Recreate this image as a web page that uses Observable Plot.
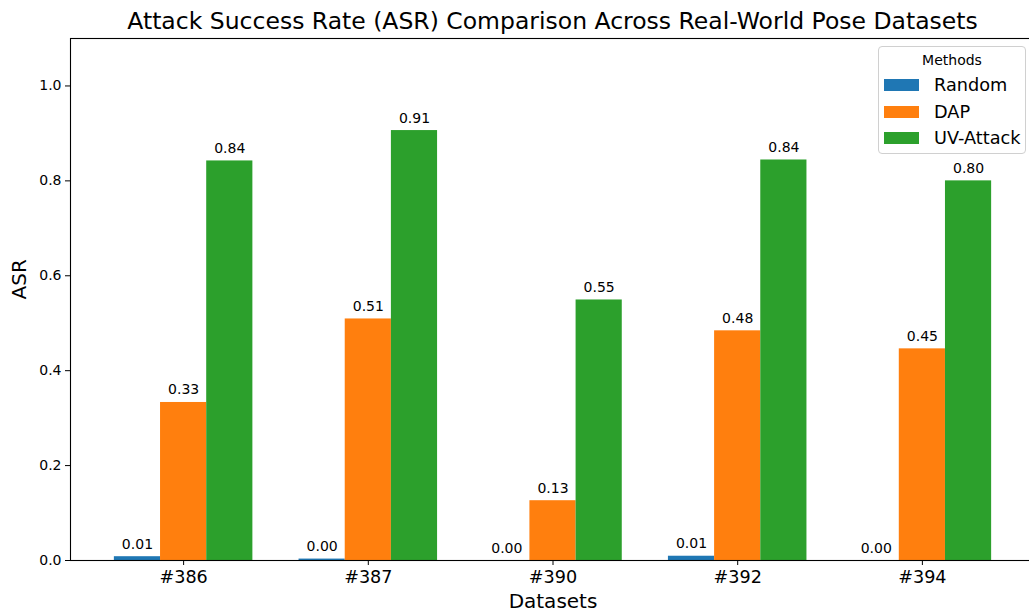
<!DOCTYPE html>
<html>
<head>
<meta charset="utf-8">
<script src="https://cdn.jsdelivr.net/npm/d3@7"></script>
<script src="https://cdn.jsdelivr.net/npm/@observablehq/plot@0.6"></script>
<style>
  html, body { margin: 0; padding: 0; background: #fff; }
  #wrap { position: relative; width: 1029px; height: 613px; overflow: hidden; font-family: "DejaVu Sans", sans-serif; }
  #title { position: absolute; left: 0; width: 1105px; top: 7px; text-align: center; font-size: 23.5px; color: #000; white-space: nowrap; }
  #legend { position: absolute; left: 878px; top: 46px; width: 148px; height: 108px; border: 1px solid #d0d0d0; border-radius: 4px; background: rgba(255,255,255,0.8); box-sizing: border-box; }
  #legend .lt { position: absolute; left: 0; width: 100%; top: 5px; text-align: center; font-size: 14px; }
  #legend .row { position: absolute; left: 5px; height: 20px; display: flex; align-items: center; font-size: 17.7px; }
  #legend .sw { width: 35px; height: 12px; margin-right: 15px; }
</style>
</head>
<body>
<div id="wrap">
  <div id="chart"></div>
  <div id="title">Attack Success Rate (ASR) Comparison Across Real-World Pose Datasets</div>
  <div id="legend"></div>
</div>
<script>
const datasets = ["#386", "#387", "#390", "#392", "#394"];
const methods = ["Random", "DAP", "UV-Attack"];
const colors = ["#1f77b4", "#ff7f0e", "#2ca02c"];
const randomASR = [0.008, 0.003, 0.0, 0.009, 0.0];
const dapASR = [0.333, 0.509, 0.126, 0.484, 0.446];
const uvASR = [0.842, 0.906, 0.549, 0.844, 0.800];
const yTicks = [0, 0.2, 0.4, 0.6, 0.8, 1.0];

const series = [randomASR, dapASR, uvASR];
const barW = 0.25;
const rows = [];
series.forEach((vals, m) => {
  vals.forEach((v, i) => {
    const c = i + (m - 1) * barW;
    rows.push({method: methods[m], i, x1: c - barW / 2, x2: c + barW / 2, xc: c, value: v});
  });
});

const lo = -1.5 * barW, hi = datasets.length - 1 + 1.5 * barW;
const span = hi - lo;
const xDomain = [lo - 0.05 * span, hi + 0.05 * span];

const plot = Plot.plot({
  width: 1029,
  height: 613,
  marginLeft: 70,
  marginRight: -6,
  marginTop: 38,
  marginBottom: 53,
  style: {fontFamily: "DejaVu Sans, sans-serif", color: "#000", background: "#fff"},
  x: {type: "linear", domain: xDomain},
  y: {domain: [0, 1.1]},
  color: {domain: methods, range: colors},
  marks: [
    Plot.rect(rows, {x1: "x1", x2: "x2", y1: 0, y2: "value", fill: "method"}),
    Plot.text(rows, {x: "xc", y: "value", text: d => d3.format(".2f")(d.value), lineAnchor: "bottom", dy: -8, fontSize: 14, fill: "#000"}),
    Plot.frame({stroke: "#000", strokeWidth: 1.1}),
    Plot.axisY({ticks: yTicks, tickFormat: d3.format(".1f"), tickSize: 5, tickPadding: 4, fontSize: 14, label: null, stroke: "#000"}),
    Plot.axisX({ticks: d3.range(datasets.length), tickFormat: i => datasets[i], tickSize: 5, tickPadding: 5, fontSize: 17.6, label: null, stroke: "#000"}),
    Plot.text(["ASR"], {frameAnchor: "left", dx: -51, rotate: -90, fontSize: 20, fill: "#000"}),
    Plot.text(["Datasets"], {frameAnchor: "bottom", dy: 47, fontSize: 20, fill: "#000"})
  ]
});
document.getElementById("chart").appendChild(plot);

const leg = document.getElementById("legend");
leg.innerHTML = '<div class="lt">Methods</div>' + methods.map((m, k) =>
  `<div class="row" style="top:${28 + k * 26.5}px"><div class="sw" style="background:${colors[k]}"></div><span>${m}</span></div>`).join("");
</script>
</body>
</html>
